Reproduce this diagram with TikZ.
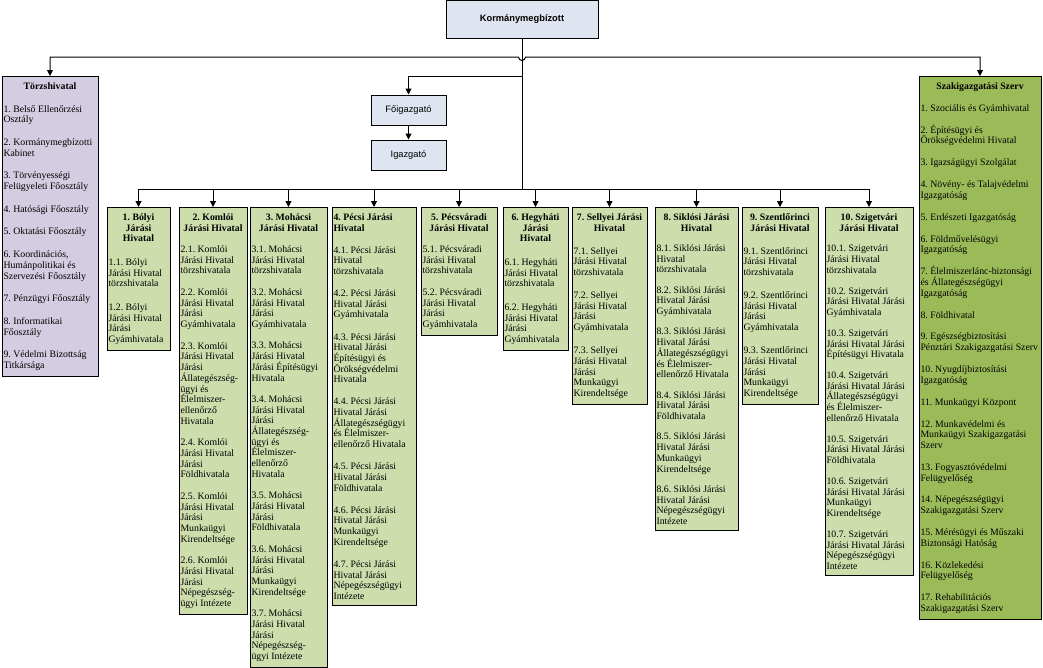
\documentclass[tikz,border=0pt]{standalone}
\usepackage{fontspec}
\setmainfont{Liberation Serif}
\newfontfamily\hdrfont{Liberation Sans}
\usetikzlibrary{arrows.meta}
\definecolor{hdrfill}{HTML}{DFE5F0}
\definecolor{torfill}{HTML}{D4CCE0}
\definecolor{jarfill}{HTML}{CDDDAC}
\definecolor{szakfill}{HTML}{9BBB59}
\frenchspacing
\hyphenpenalty=10000
\lineskiplimit=-20pt
% box body: height, width, contents
\newcommand{\bxbody}[3]{\parbox[t][#1pt][s]{#2pt}{\raggedright #3}}
\newcommand{\bxttl}[1]{{\centering\bfseries #1\par}}
\newcommand{\bxitm}[1]{\vspace{0pt plus 1fil}#1\par}

\begin{document}
\begin{tikzpicture}[x=1pt,y=-1pt,line width=1pt,
  hdrbox/.style={draw,fill=hdrfill,font=\hdrfont\fontsize{9.3}{11}\selectfont,inner sep=2pt},
  colbox/.style={draw,fill=jarfill,anchor=north,inner xsep=1.5pt,inner ysep=6pt,
    font=\fontsize{9.8}{10.7}\selectfont},
  arr/.style={-{Triangle[width=6pt,length=6pt]}},
  arrboth/.style={{Triangle[width=6pt,length=6pt]}-{Triangle[width=6pt,length=6pt]}}]
\useasboundingbox (0,0) rectangle (1043,667);
\node[hdrbox,minimum width=152,minimum height=38] (korm) at (522,19) {\bfseries Kormánymegbízott};
\node[hdrbox,minimum width=75,minimum height=30] (fo) at (408.5,110) {Főigazgató};
\node[hdrbox,minimum width=75,minimum height=30] (ig) at (408.5,155) {Igazgató};
\coordinate (staff) at (522,57); \coordinate (fork) at (522,76); \coordinate (bus) at (522,189);
% staff units
\node[colbox,fill=torfill] (tor) at (50,76) {\bxbody{286}{93}{\bxttl{Törzshivatal}
\bxitm{1. Belső Ellenőrzési\\Osztály}
\bxitm{2. Kormánymegbízotti\\Kabinet}
\bxitm{3. Törvényességi\\Felügyeleti Főosztály}
\bxitm{4. Hatósági Főosztály}
\bxitm{5. Oktatási Főosztály}
\bxitm{6. Koordinációs,\\Humánpolitikai és\\Szervezési Főosztály}
\bxitm{7. Pénzügyi Főosztály}
\bxitm{8. Informatikai\\Főosztály}
\bxitm{9. Védelmi Bizottság\\Titkársága}}};
\node[colbox,fill=szakfill] (szak) at (980,76) {\bxbody{529}{119}{\bxttl{Szakigazgatási Szerv}
\bxitm{1. Szociális és Gyámhivatal}
\bxitm{2. Építésügyi és\\Örökségvédelmi Hivatal}
\bxitm{3. Igazságügyi Szolgálat}
\bxitm{4. Növény- és Talajvédelmi\\Igazgatóság}
\bxitm{5. Erdészeti Igazgatóság}
\bxitm{6. Földművelésügyi\\Igazgatóság}
\bxitm{7. Élelmiszerlánc-biztonsági\\és Állategészségügyi\\Igazgatóság}
\bxitm{8. Földhivatal}
\bxitm{9. Egészségbiztosítási\\Pénztári~Szakigazgatási~Szerv}
\bxitm{10. Nyugdíjbiztosítási\\Igazgatóság}
\bxitm{11. Munkaügyi Központ}
\bxitm{12. Munkavédelmi és\\Munkaügyi~Szakigazgatási\\Szerv}
\bxitm{13. Fogyasztóvédelmi\\Felügyelőség}
\bxitm{14. Népegészségügyi\\Szakigazgatási Szerv}
\bxitm{15. Mérésügyi és Műszaki\\Biztonsági Hatóság}
\bxitm{16. Közlekedési\\Felügyelőség}
\bxitm{17. Rehabilitációs\\Szakigazgatási Szerv}}};
% district offices
\node[colbox] (b1) at (138.5,207) {\bxbody{129}{60}{\bxttl{1. Bólyi\\Járási\\Hivatal}
\bxitm{1.1. Bólyi\\Járási Hivatal\\törzshivatala}
\bxitm{1.2. Bólyi\\Járási Hivatal\\Járási\\Gyámhivatala}}};
\node[colbox] (b2) at (213,207) {\bxbody{393}{65}{\bxttl{2. Komlói\\Járási Hivatal}
\bxitm{2.1. Komlói\\Járási Hivatal\\törzshivatala}
\bxitm{2.2. Komlói\\Járási Hivatal\\Járási\\Gyámhivatala}
\bxitm{2.3. Komlói\\Járási Hivatal\\Járási\\Állategészség-\\ügyi és\\Élelmiszer-\\ellenőrző\\Hivatala}
\bxitm{2.4. Komlói\\Járási Hivatal\\Járási\\Földhivatala}
\bxitm{2.5. Komlói\\Járási Hivatal\\Járási\\Munkaügyi\\Kirendeltsége}
\bxitm{2.6. Komlói\\Járási Hivatal\\Járási\\Népegészség-\\ügyi Intézete}}};
\node[colbox] (b3) at (288.5,207) {\bxbody{446}{74}{\bxttl{3. Mohácsi\\Járási Hivatal}
\bxitm{3.1. Mohácsi\\Járási Hivatal\\törzshivatala}
\bxitm{3.2. Mohácsi\\Járási Hivatal\\Járási\\Gyámhivatala}
\bxitm{3.3. Mohácsi\\Járási Hivatal\\Járási Építésügyi\\Hivatala}
\bxitm{3.4. Mohácsi\\Járási Hivatal\\Járási\\Állategészség-\\ügyi és\\Élelmiszer-\\ellenőrző\\Hivatala}
\bxitm{3.5. Mohácsi\\Járási Hivatal\\Járási\\Földhivatala}
\bxitm{3.6. Mohácsi\\Járási Hivatal\\Járási\\Munkaügyi\\Kirendeltsége}
\bxitm{3.7. Mohácsi\\Járási Hivatal\\Járási\\Népegészség-\\ügyi Intézete}}};
\node[colbox] (b4) at (374,207) {\bxbody{386}{81}{{\bfseries 4. Pécsi Járási\\Hivatal\par}
\bxitm{4.1. Pécsi Járási\\Hivatal\\törzshivatala}
\bxitm{4.2. Pécsi Járási\\Hivatal Járási\\Gyámhivatala}
\bxitm{4.3. Pécsi Járási\\Hivatal Járási\\Építésügyi és\\Örökségvédelmi\\Hivatala}
\bxitm{4.4. Pécsi Járási\\Hivatal Járási\\Állategészségügyi\\és Élelmiszer-\\ellenőrző Hivatala}
\bxitm{4.5. Pécsi Járási\\Hivatal Járási\\Földhivatala}
\bxitm{4.6. Pécsi Járási\\Hivatal Járási\\Munkaügyi\\Kirendeltsége}
\bxitm{4.7. Pécsi Járási\\Hivatal Járási\\Népegészségügyi\\Intézete}}};
\node[colbox] (b5) at (459,207) {\bxbody{114}{73}{\bxttl{5. Pécsváradi\\Járási Hivatal}
\bxitm{5.1. Pécsváradi\\Járási Hivatal\\törzshivatala}
\bxitm{5.2. Pécsváradi\\Járási Hivatal\\Járási\\Gyámhivatala}}};
\node[colbox] (b6) at (535.5,207) {\bxbody{129}{62}{\bxttl{6. Hegyháti\\Járási\\Hivatal}
\bxitm{6.1. Hegyháti\\Járási Hivatal\\törzshivatala}
\bxitm{6.2. Hegyháti\\Járási Hivatal\\Járási\\Gyámhivatala}}};
\node[colbox] (b7) at (609.5,207) {\bxbody{183}{72}{\bxttl{7. Sellyei Járási\\Hivatal}
\bxitm{7.1. Sellyei\\Járási Hivatal\\törzshivatala}
\bxitm{7.2. Sellyei\\Járási Hivatal\\Járási\\Gyámhivatala}
\bxitm{7.3. Sellyei\\Járási Hivatal\\Járási\\Munkaügyi\\Kirendeltsége}}};
\node[colbox] (b8) at (696.5,207) {\bxbody{311}{80}{\bxttl{8. Siklósi Járási\\Hivatal}
\bxitm{8.1. Siklósi Járási\\Hivatal\\törzshivatala}
\bxitm{8.2. Siklósi Járási\\Hivatal Járási\\Gyámhivatala}
\bxitm{8.3. Siklósi Járási\\Hivatal Járási\\Állategészségügyi\\és Élelmiszer-\\ellenőrző Hivatala}
\bxitm{8.4. Siklósi Járási\\Hivatal Járási\\Földhivatala}
\bxitm{8.5. Siklósi Járási\\Hivatal Járási\\Munkaügyi\\Kirendeltsége}
\bxitm{8.6. Siklósi Járási\\Hivatal Járási\\Népegészségügyi\\Intézete}}};
\node[colbox] (b9) at (780,207) {\bxbody{183}{73}{\bxttl{9. Szentlőrinci\\Járási Hivatal}
\bxitm{9.1. Szentlőrinci\\Járási Hivatal\\törzshivatala}
\bxitm{9.2. Szentlőrinci\\Járási Hivatal\\Járási\\Gyámhivatala}
\bxitm{9.3. Szentlőrinci\\Járási Hivatal\\Járási\\Munkaügyi\\Kirendeltsége}}};
\node[colbox] (b10) at (869,207) {\bxbody{356}{85}{\bxttl{10. Szigetvári\\Járási Hivatal}
\bxitm{10.1. Szigetvári\\Járási Hivatal\\törzshivatala}
\bxitm{10.2. Szigetvári\\Járási Hivatal Járási\\Gyámhivatala}
\bxitm{10.3. Szigetvári\\Járási Hivatal Járási\\Építésügyi Hivatala}
\bxitm{10.4. Szigetvári\\Járási Hivatal Járási\\Állategészségügyi\\és Élelmiszer-\\ellenőrző Hivatala}
\bxitm{10.5. Szigetvári\\Járási Hivatal Járási\\Földhivatala}
\bxitm{10.6. Szigetvári\\Járási Hivatal Járási\\Munkaügyi\\Kirendeltsége}
\bxitm{10.7. Szigetvári\\Járási Hivatal Járási\\Népegészségügyi\\Intézete}}};
% connectors
\draw (korm.south) -- (bus);
\draw[arrboth] (tor.north) -- (staff -| tor.north) -- ([xshift=-3.5]staff) arc[start angle=180,end angle=0,radius=3.5] -- (staff -| szak.north) -- (szak.north);
\draw[arr] (fork) -| (fo.north);
\draw[arr] (fo) -- (ig);
\draw (bus -| b1.north) -- (bus -| b10.north);
\foreach \i in {1,...,10} \draw[arr] (bus -| b\i.north) -- (b\i.north);
\end{tikzpicture}
\end{document}
